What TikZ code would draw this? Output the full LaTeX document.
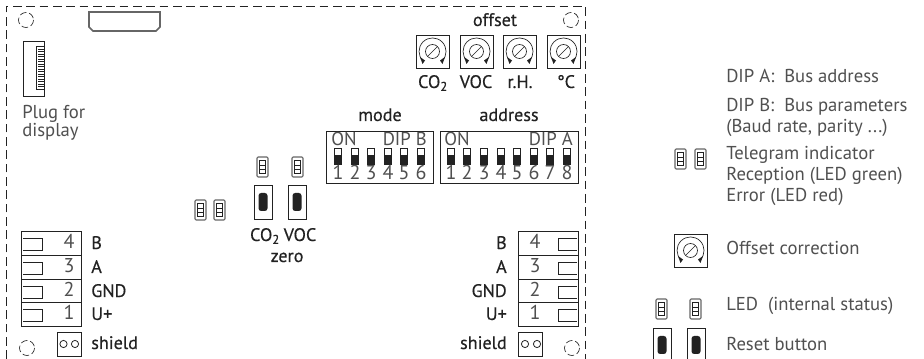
\documentclass[tikz,border=0pt]{standalone}
\usepackage{fontspec}
\setmainfont{PT Sans}
\newfontfamily\labelfont[FakeBold=0.35]{PT Sans}
\definecolor{inkdark}{HTML}{222222}
\definecolor{inklight}{HTML}{505050}
\definecolor{ledgray}{HTML}{666666}
\newcommand{\ledpart}[2]{%
  \draw[ledgray,line width=.8pt,rounded corners=.8pt] (#1,#2) rectangle ++(11,20);
  \draw[inkdark,line width=.5pt] (#1+2.5,#2+3.5) rectangle ++(6,13) (#1+2.5,#2+8) -- ++(6,0) (#1+2.5,#2+12) -- ++(6,0);}
\newcommand{\resetpart}[2]{%
  \draw[inkdark,line width=.6pt] (#1,#2) rectangle ++(18,34);
  \fill[inkdark,rounded corners=2pt] (#1+4.5,#2+8) rectangle ++(9,18);}
\newcommand{\potpart}[2]{%
  \draw[inkdark,line width=.6pt] (#1,#2) rectangle ++(33,33);
  \draw[inkdark,line width=.5pt] (#1+16.5,#2+16.5) circle (7);
  \draw[inkdark,line width=.5pt] (#1+12,#2+21) -- (#1+21,#2+12);
  \draw[inkdark,line width=.5pt] (#1+7,#2+26) arc (135:405:13.5);
  \fill[inkdark] (#1+4,#2+22) -- (#1+9,#2+25.5) -- (#1+6.5,#2+29) -- cycle;
  \fill[inkdark] (#1+29,#2+22) -- (#1+24,#2+25.5) -- (#1+26.5,#2+29) -- cycle;}
\newcommand{\dippart}[3]{%
  \draw[inkdark,line width=.6pt] (#1-3.5,#2) rectangle ++(7,16);
  \fill[inkdark] (#1-3.5,#2+7.5) rectangle ++(7,8.5);
  \node[lighttext,anchor=base,font=\fontsize{15}{16}\selectfont] at (#1,#2+32) {#3};}
\tikzset{
  x=0.75pt,y=-0.75pt,
  lighttext/.style={text=inklight,font=\fontsize{14}{15}\selectfont,inner sep=0pt},
  labeltext/.style={text=inkdark,font=\labelfont\fontsize{13.6}{15}\selectfont,inner sep=0pt},
  dashcirc/.style={inkdark,line width=.5pt,dash pattern=on 5pt off 2.2pt},
  frameline/.style={inkdark,line width=.7pt,dash pattern=on 6.5pt off 3.5pt},
  thinbox/.style={inkdark,line width=.6pt},
}
\begin{document}
\begin{tikzpicture}
\useasboundingbox (0,0) rectangle (924,359);
\clip (0,0) rectangle (924,359);
\fill[white] (0,0) rectangle (924,359);
% frame
\draw[frameline] (6,359) -- (6,6) -- (585,6) -- (585,359);
% corner marks
\draw[dashcirc] (26,20) circle (7.5);
\draw[dashcirc] (571,20) circle (7.5);
\draw[dashcirc] (27,348) circle (7.5);
\draw[dashcirc] (572,348) circle (7.5);
% top connector
\draw[ledgray,line width=1.2pt] (89,12) -- (160,12) -- (160,27) -- (156,31) -- (93,31) -- (89,27) -- cycle;
% display plug
\draw[thinbox] (23,41) rectangle (44,96);
\draw[thinbox] (36,46) rectangle (44,89);
\foreach \ty in {49,51.5,...,87}{\draw[inkdark,line width=.35pt] (38,\ty) -- (44,\ty);}
\node[lighttext,anchor=base west] (plug) at (22,119) {Plug for};
\node[lighttext,anchor=base west] (disp) at (22,137) {display};
% offset
\node[labeltext,anchor=base] (off) at (495,26) {offset};
\potpart{416}{35}\potpart{460}{35}\potpart{503}{35}\potpart{547}{35}
\node[labeltext,anchor=base] (oa) at (433,88) {CO\textsubscript{2}};
\node[labeltext,anchor=base] (ob) at (476,88) {VOC};
\node[labeltext,anchor=base] (oc) at (520,88) {r.H.};
\node[labeltext,anchor=base] (od) at (566,88) {°C};
% DIP switches
\node[labeltext,anchor=base] (mo) at (380,121) {mode};
\node[labeltext,anchor=base] (ad) at (509,121) {address};
\draw[thinbox] (326,131) rectangle (433,183.5);
\draw[thinbox] (440,131) rectangle (578,183.5);
\node[lighttext,anchor=base west] at (331,146) {ON};
\node[lighttext,anchor=base east] at (427,146) {DIP B};
\node[lighttext,anchor=base west] at (444,146) {ON};
\node[lighttext,anchor=base east] at (573,146) {DIP A};
\foreach \n/\sx in {1/338,2/355,3/371,4/388,5/404,6/421}{\dippart{\sx}{148}{\n}}
\foreach \n/\sx in {1/451,2/467,3/484,4/501,5/517,6/534,7/550,8/567}{\dippart{\sx}{148}{\n}}
% LEDs and reset
\ledpart{257}{157}\ledpart{292}{157}
\ledpart{195}{200}\ledpart{214}{200}
\resetpart{254}{185}\resetpart{288}{185}
\node[labeltext,anchor=base] (zc) at (265,241) {CO\textsubscript{2}};
\node[labeltext,anchor=base] (zv) at (300,241) {VOC};
\node[labeltext,anchor=base] (zz) at (287,262) {zero};
% left terminal
\draw[thinbox] (21,231) rectangle (81,326);
\foreach \ry in {255,279,302}{\draw[thinbox] (21,\ry) -- (81,\ry);}
\foreach \n/\ry/\lab in {4/231/B,3/255/A,2/279/GND,1/302/U+}{
  \draw[thinbox] (23,\ry+7) -- (42,\ry+7) -- (42,\ry+19) -- (23,\ry+19);
  \node[lighttext,anchor=base,font=\fontsize{15}{16}\selectfont] at (69,\ry+18) {\n};
  \node[labeltext,anchor=base west] at (91,\ry+18) {\lab};
}
\draw[thinbox] (57,332) rectangle (81,356);
\draw[thinbox] (63.5,344) circle (3.6) (75,344) circle (3.6);
\node[labeltext,anchor=base west] (sl) at (91,349) {shield};
% right terminal
\draw[thinbox] (518,231) rectangle (578,326);
\foreach \ry in {255,279,302}{\draw[thinbox] (518,\ry) -- (578,\ry);}
\foreach \n/\ry/\lab in {4/231/B,3/255/A,2/279/GND,1/302/U+}{
  \draw[thinbox] (577,\ry+7) -- (558,\ry+7) -- (558,\ry+19) -- (577,\ry+19);
  \node[lighttext,anchor=base,font=\fontsize{15}{16}\selectfont] at (535,\ry+18) {\n};
  \node[labeltext,anchor=base east] at (507,\ry+18) {\lab};
}
\draw[thinbox] (518,332) rectangle (542,356);
\draw[thinbox] (525,344) circle (3.6) (537,344) circle (3.6);
\node[labeltext,anchor=base east] (sr) at (507,349) {shield};
% legend
\node[lighttext,anchor=base west] at (726,83) {DIP A:\ \ Bus address};
\node[lighttext,anchor=base west] at (726,112) {DIP B:\ \ Bus parameters};
\node[lighttext,anchor=base west] at (726,133) {(Baud rate, parity ...)};
\node[lighttext,anchor=base west] at (726,160) {Telegram indicator};
\node[lighttext,anchor=base west] at (726,181) {Reception (LED green)};
\node[lighttext,anchor=base west] at (726,202) {Error (LED red)};
\node[lighttext,anchor=base west] at (726,255) {Offset correction};
\node[lighttext,anchor=base west] at (726,311) {LED\ \ (internal status)};
\node[lighttext,anchor=base west] at (726,350) {Reset button};
\ledpart{675}{149}\ledpart{695}{149}
\potpart{674}{234}
\ledpart{656}{299}\ledpart{690}{299}
\resetpart{653}{328}\resetpart{687}{328}
\end{tikzpicture}
\end{document}
